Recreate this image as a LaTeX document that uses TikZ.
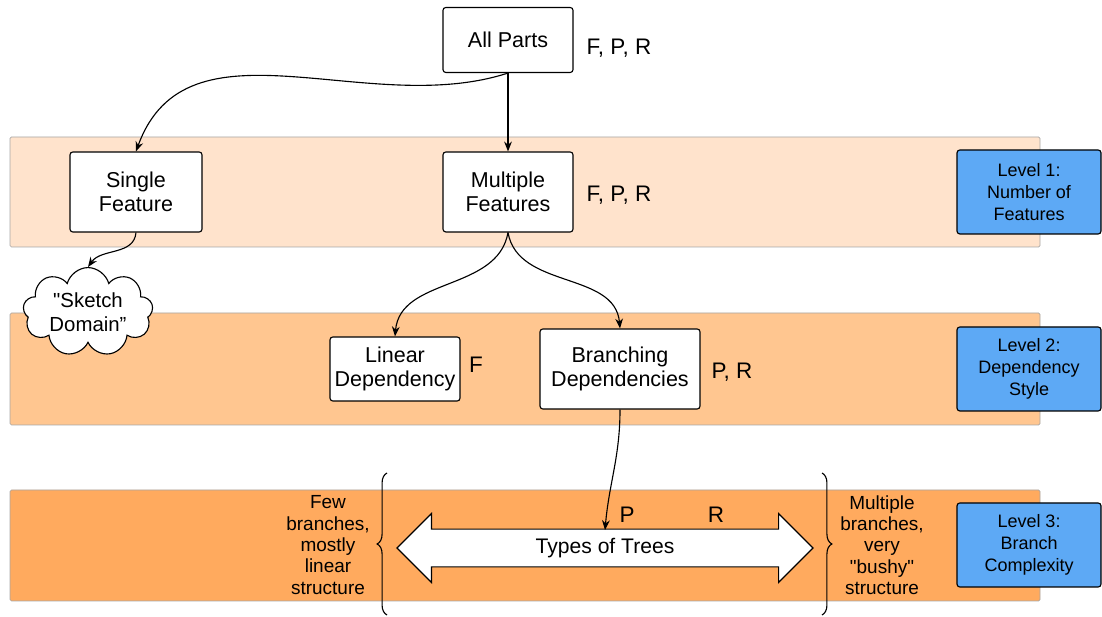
\documentclass[tikz,border=0pt]{standalone}
\usepackage{fontspec}
\setmainfont{Liberation Sans}[Ligatures=TeXOff]
\usetikzlibrary{arrows.meta,shapes.symbols,shapes.arrows,decorations.pathreplacing}
\definecolor{bandA}{HTML}{FFE3CC}
\definecolor{bandB}{HTML}{FFC690}
\definecolor{bandC}{HTML}{FFAA5E}
\definecolor{levelblue}{HTML}{5DA9F5}
\begin{document}
\begin{tikzpicture}[
        box/.style={rectangle, draw, fill=white, rounded corners=2pt, line width=0.8pt, inner xsep=2pt, align=center, font=\fontsize{15.3}{17.3}\selectfont},
        band/.style={draw=gray!70, rounded corners=1pt},
        level/.style={rectangle, draw, fill=levelblue, rounded corners=2pt, line width=0.8pt, minimum width=3.6cm, minimum height=2.1cm, align=center, font=\fontsize{12.8}{15.4}\selectfont},
        tag/.style={font=\fontsize{16}{19}\selectfont},
        side/.style={align=center, font=\fontsize{13.5}{15.2}\selectfont},
        arrow/.style={->, >={Stealth[length=7pt, width=5.5pt]}, line width=0.8pt}
    ]
        \useasboundingbox (0,0) rectangle (27.55,15.425);
        % level bands
        \draw[band, fill=bandA] (0.25,9.25) rectangle (26.0,12.0);
        \draw[band, fill=bandB] (0.25,4.8) rectangle (26.0,7.6);
        \draw[band, fill=bandC] (0.25,0.4) rectangle (26.0,3.175);

        \node[box, minimum width=3.25cm, minimum height=1.625cm] (allparts) at (12.7,14.425) {All Parts};
        \node[tag] (tagall) at (15.475,14.225) {F, P, R};

        \node[box, minimum width=3.3cm, minimum height=2cm] (single) at (3.4,10.625) {Single\\Feature};
        \node[box, minimum width=3.25cm, minimum height=2cm] (multiple) at (12.7,10.625) {Multiple\\Features};
        \node[tag] (tagmulti) at (15.475,10.55) {F, P, R};
        \node[level] (level1) at (25.725,10.625) {Level 1:\\Number of\\Features};

        \node[cloud, cloud puffs=9, aspect=1.7, draw, fill=white, line width=0.8pt, minimum width=3.25cm, minimum height=2cm, inner sep=0pt, align=center, font=\fontsize{14.5}{17.3}\selectfont] (sketch) at (2.2,7.625) {"Sketch\\Domain”};

        \node[box, minimum width=3.25cm, minimum height=1.6cm] (linear) at (9.875,6.2) {Linear\\Dependency};
        \node[tag] (taglinear) at (11.9,6.3) {F};
        \node[box, minimum width=4cm, minimum height=2cm] (branching) at (15.5,6.2) {Branching\\Dependencies};
        \node[tag] (tagbranch) at (18.3,6.125) {P, R};
        \node[level] (level2) at (25.725,6.2) {Level 2:\\Dependency\\Style};

        \node[double arrow, draw, fill=white, line width=0.8pt, minimum height=10.4cm, minimum width=1.7cm, double arrow head extend=0.39cm, text height=11pt, text depth=3pt, inner ysep=6pt, font=\fontsize{15}{18}\selectfont] (trees) at (15.125,1.725) {Types of Trees};
        \coordinate (treetop) at (15.125,2.175);
        \node[tag] (tagp) at (15.675,2.55) {P};
        \node[tag] (tagr) at (17.9,2.55) {R};
        \node[side] (few) at (8.2,1.8) {Few\\branches,\\mostly\\linear\\structure};
        \node[side] (bushy) at (22.05,1.8) {Multiple\\branches,\\very\\"bushy"\\structure};
        \node[level] (level3) at (25.725,1.8) {Level 3:\\Branch\\Complexity};

        \draw[decorate, decoration={brace, amplitude=7pt}, line width=0.8pt] (9.675,0.05) -- (9.675,3.6);
        \draw[decorate, decoration={brace, amplitude=7pt}, line width=0.8pt] (20.55,3.6) -- (20.55,0.05);

        \draw[arrow] (allparts) -- (multiple);
        \draw[arrow] (allparts.south) to[out=198, in=70] (single.north);
        \draw[arrow] (single.south) to[out=-95, in=55] (sketch.north);
        \draw[arrow] (multiple.south) to[out=-100, in=85] (linear.north);
        \draw[arrow] (multiple.south) to[out=-80, in=95] (branching.north);
        \draw[arrow] (branching.south) to[out=-90, in=85] (treetop);
    \end{tikzpicture}
\end{document}
